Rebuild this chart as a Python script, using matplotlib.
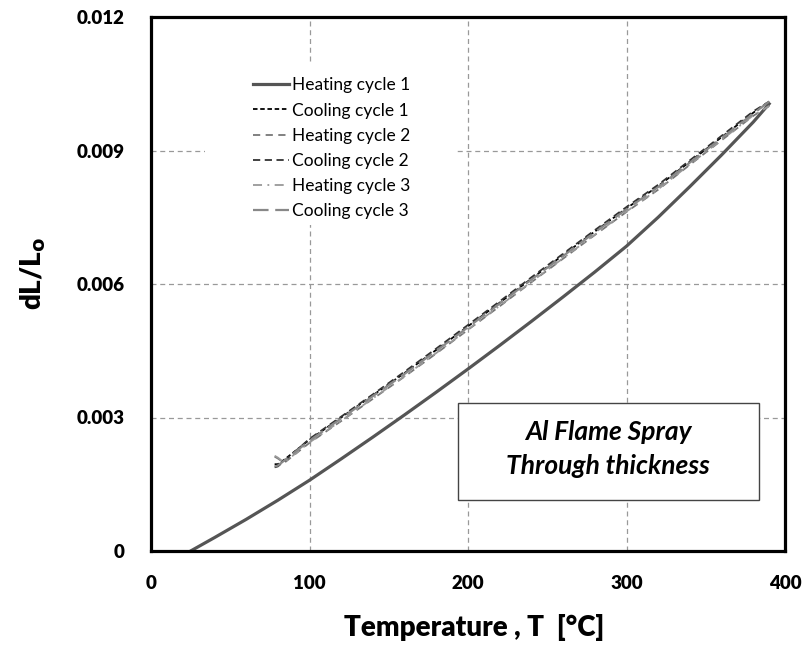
import numpy as np
import matplotlib
matplotlib.use("Agg")
import matplotlib.pyplot as plt
from matplotlib.patches import Rectangle

plt.rcParams['font.family'] = ['Lato', 'DejaVu Sans']

# heating cycle 1 (first run from room temperature)
t_heat1 = [25, 30, 40, 60, 80, 100, 120, 140, 160, 180, 200, 220, 240, 260,
           280, 300, 320, 340, 360, 380, 390]
heat1 = [0.0, 0.00010, 0.00030, 0.00071, 0.00114, 0.00159, 0.00207, 0.00256,
         0.00306, 0.00357, 0.00409, 0.00462, 0.00516, 0.00571, 0.00627,
         0.00685, 0.00750, 0.00819, 0.00890, 0.00964, 0.01005]

# later cycles, 80 -> 390 C
t_cyc = [78, 80, 84, 100, 120, 140, 160, 180, 200, 220, 240, 260, 280, 300,
         320, 340, 360, 380, 390]
cool1 = [0.00195, 0.00195, 0.00205, 0.00250, 0.00300, 0.00350, 0.00400,
         0.00452, 0.00505, 0.00558, 0.00612, 0.00665, 0.00718, 0.00770,
         0.00820, 0.00875, 0.00930, 0.00985, 0.0101]
heat2 = [0.00212, 0.00208, 0.00198, 0.00243, 0.00292, 0.00342, 0.00392,
         0.00444, 0.00497, 0.00550, 0.00604, 0.00657, 0.00710, 0.00762,
         0.00812, 0.00868, 0.00923, 0.00978, 0.0100]
cool2 = [0.00188, 0.00190, 0.00202, 0.00252, 0.00302, 0.00352, 0.00403,
         0.00455, 0.00508, 0.00561, 0.00615, 0.00668, 0.00721, 0.00773,
         0.00823, 0.00878, 0.00933, 0.00988, 0.0101]
heat3 = [0.00214, 0.00210, 0.00199, 0.00244, 0.00293, 0.00343, 0.00393,
         0.00445, 0.00498, 0.00551, 0.00605, 0.00658, 0.00711, 0.00763,
         0.00813, 0.00869, 0.00924, 0.00979, 0.0100]
cool3 = [0.00190, 0.00192, 0.00203, 0.00248, 0.00298, 0.00348, 0.00398,
         0.00450, 0.00503, 0.00556, 0.00610, 0.00663, 0.00716, 0.00768,
         0.00818, 0.00873, 0.00928, 0.00983, 0.0101]

x_ticks = [0, 100, 200, 300, 400]
y_ticks = [0, 0.003, 0.006, 0.009, 0.012]
y_ticklabels = ['0', '0.003', '0.006', '0.009', '0.012']

fig = plt.figure(figsize=(8.07, 6.45), dpi=100)
ax = fig.add_axes([151/807, 1 - 551/645, 634/807, 534/645])
ax.set_axisbelow(True)

ax.plot(t_heat1, heat1, color='#555555', lw=2.3, ls='-', label='Heating cycle 1')
ax.plot(t_cyc, cool1, color='black', lw=1.3, ls=(0, (2.5, 1.5)), label='Cooling cycle 1')
ax.plot(t_cyc, heat2, color='#777777', lw=1.3, ls=(0, (4, 3)), label='Heating cycle 2')
ax.plot(t_cyc, cool2, color='#333333', lw=1.3, ls=(0, (4, 2.5)), label='Cooling cycle 2')
ax.plot(t_cyc, heat3, color='#999999', lw=1.3, ls=(0, (5, 3, 1, 3)), label='Heating cycle 3')
ax.plot(t_cyc, cool3, color='#888888', lw=1.6, ls=(0, (7, 3)), label='Cooling cycle 3')

ax.set_xlim(0, 400)
ax.set_ylim(0, 0.012)
ax.tick_params(axis='x', length=0, pad=17)
ax.tick_params(axis='y', length=0, pad=19)
ax.set_xticks(x_ticks, [str(t) for t in x_ticks], fontsize=13.5, fontweight='heavy')
ax.set_yticks(y_ticks, y_ticklabels, fontsize=13.5, fontweight='heavy')
ax.grid(True, color='#999999', ls=(0, (4, 3)), lw=0.9)
for s in ax.spines.values():
    s.set_linewidth(2.3)

ax.set_xlabel('Temperature , T  [°C]', fontsize=20, fontweight='heavy')
ax.xaxis.set_label_coords(0.51, -0.118)
ax.set_ylabel(r'dL/L$_\mathbf{o}$', fontsize=20, fontweight='heavy')
ax.yaxis.set_label_coords(-0.162, 0.52)

# white panel behind the legend
ax.add_patch(Rectangle((0.085, 0.610), 0.394, 0.304, transform=ax.transAxes,
                       facecolor='white', edgecolor='none', zorder=1))
ax.legend(loc='upper left', bbox_to_anchor=(0.161, 0.887), borderaxespad=0,
          fontsize=12.5, frameon=False, handlelength=2.05,
          handletextpad=0.2, labelspacing=0.53, borderpad=0.0)

box = Rectangle((0.484, 0.0955), 0.475, 0.182, transform=ax.transAxes,
                facecolor='white', edgecolor='#444444', lw=1.0, zorder=5)
ax.add_patch(box)
ax.text(0.721, 0.223, 'Al Flame Spray', transform=ax.transAxes, ha='center',
        va='center', fontsize=19, fontweight='bold', style='italic', zorder=6)
ax.text(0.721, 0.160, 'Through thickness', transform=ax.transAxes, ha='center',
        va='center', fontsize=19, fontweight='bold', style='italic', zorder=6)

fig.savefig('out.png', dpi=100)
